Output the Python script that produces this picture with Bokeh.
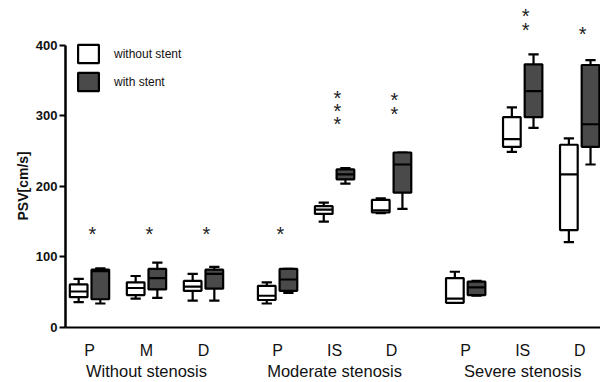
from bokeh.plotting import figure
from bokeh.models import (ColumnDataSource, LinearAxis, FixedTicker, Range1d,
                          Legend, LegendItem, Title)
from bokeh.core.properties import value
from bokeh.embed import file_html
from bokeh.resources import INLINE

# ---------------- data ----------------
groups = ["Without stenosis", "Moderate stenosis", "Severe stenosis"]
sites = ["P", "M", "D", "P", "IS", "D", "P", "IS", "D"]
site_group = [0, 0, 0, 1, 1, 1, 2, 2, 2]
site_slot = [0, 1, 2, 0, 1, 2, 0, 1, 2]

# without stent: whisker low, Q1, median, Q3, whisker high
wo_low = [36, 41, 38, 34, 150, 162, 35, 249, 121]
wo_q1 = [43, 46, 52, 39, 161, 163, 35, 256, 138]
wo_med = [51, 56, 58, 45, 167, 166, 41, 267, 217]
wo_q3 = [61, 64, 66, 59, 172, 181, 70, 298, 259]
wo_high = [69, 73, 76, 64, 177, 183, 79, 312, 268]

# with stent
ws_low = [34, 42, 38, 49, 204, 168, 45, 283, 231]
ws_q1 = [40, 54, 55, 52, 210, 191, 46, 298, 256]
ws_med = [80, 70, 76, 68, 217, 231, 57, 335, 288]
ws_q3 = [82, 83, 82, 83, 224, 248, 65, 373, 372]
ws_high = [84, 92, 86, 83, 226, 248, 66, 387, 379]

# significance stars: site index and height
star_site = [0, 1, 2, 3, 4, 4, 4, 5, 5, 7, 7, 8]
star_y = [137, 137, 137, 137, 330, 311, 292, 327, 307, 445, 426, 420]

y_ticks = [0, 100, 200, 300, 400]
y_label = "PSV[cm/s]"

# ---------------- layout helpers ----------------
GROUP_STEP = 3.3
OFFSET = 0.19
BOX_W = 0.31
CAP_HALF = 0.09

pos = [g * GROUP_STEP + s for g, s in zip(site_group, site_slot)]
group_pos = [g * GROUP_STEP + 1 for g in range(len(groups))]


def make_src(xshift, low, q1, med, q3, high):
    x = [p_ + xshift for p_ in pos]
    return ColumnDataSource(dict(
        x=x, low=low, q1=q1, med=med, q3=q3, high=high,
        cx0=[v - CAP_HALF for v in x], cx1=[v + CAP_HALF for v in x],
        mx0=[v - BOX_W / 2 for v in x], mx1=[v + BOX_W / 2 for v in x],
    ))


src_wo = make_src(-OFFSET, wo_low, wo_q1, wo_med, wo_q3, wo_high)
src_ws = make_src(OFFSET, ws_low, ws_q1, ws_med, ws_q3, ws_high)

p = figure(width=600, height=382, output_backend="svg", toolbar_location=None,
           x_range=Range1d(-0.421, 8.965), y_range=Range1d(0, 463.4),
           min_border_left=65, min_border_right=0, min_border_top=0,
           min_border_bottom=53, outline_line_color=None,
           background_fill_color="white", border_fill_color="white")
p.xgrid.visible = False
p.ygrid.visible = False

LW = 2.2
renderers = {}
for key, src, fill in (("wo", src_wo, "white"), ("ws", src_ws, "#4a4a4a")):
    p.segment(x0="x", y0="low", x1="x", y1="high", source=src,
              line_color="black", line_width=LW)
    p.segment(x0="cx0", y0="high", x1="cx1", y1="high", source=src,
              line_color="black", line_width=LW)
    p.segment(x0="cx0", y0="low", x1="cx1", y1="low", source=src,
              line_color="black", line_width=LW)
    r = p.vbar(x="x", width=BOX_W, bottom="q1", top="q3", source=src,
               fill_color=fill, line_color="black", line_width=LW)
    p.segment(x0="mx0", y0="med", x1="mx1", y1="med", source=src,
              line_color="black", line_width=LW)
    renderers[key] = r

star_src = ColumnDataSource(dict(
    x=[pos[i] + 0.05 for i in star_site], y=star_y, t=["*"] * len(star_y)))
p.text(x="x", y="y", text="t", source=star_src,
       text_font=value("Liberation Sans"), text_font_size="20px",
       text_align="center", text_baseline="middle", text_color="#222222",
       y_offset=3)

# ---------------- axes ----------------
yax = p.yaxis[0]
yax.ticker = FixedTicker(ticks=y_ticks)
yax.bounds = (0, 400)
yax.axis_line_width = 2.5
yax.major_tick_line_width = 2
yax.major_tick_out = 6
yax.major_tick_in = 0
yax.minor_tick_line_color = None
yax.major_label_standoff = 2
yax.major_label_text_font = "Liberation Sans"
yax.major_label_text_font_style = "bold"
yax.major_label_text_font_size = "13px"
yax.major_label_text_color = "#111111"

p.add_layout(Title(text=y_label, align="left", offset=107, standoff=4,
                   text_font="Liberation Sans", text_font_style="bold",
                   text_font_size="14px", text_color="#111111"), "left")

xax = p.xaxis[0]
xax.ticker = FixedTicker(ticks=pos)
xax.major_label_overrides = {pos[i]: sites[i] for i in range(len(sites))}
xax.axis_line_width = 2
xax.major_tick_out = 0
xax.major_tick_in = 0
xax.minor_tick_line_color = None
xax.major_tick_line_color = None
xax.major_label_standoff = 14
xax.major_label_text_font = "Liberation Sans"
xax.major_label_text_font_size = "16px"
xax.major_label_text_color = "#111111"

gax = LinearAxis(ticker=FixedTicker(ticks=group_pos),
                 major_label_overrides={group_pos[i]: groups[i] for i in range(len(groups))},
                 axis_line_color=None, major_tick_line_color=None,
                 minor_tick_line_color=None, major_tick_out=0, major_tick_in=0,
                 major_label_standoff=0,
                 major_label_text_font="Liberation Sans",
                 major_label_text_font_size="16.5px",
                 major_label_text_color="#111111")
p.add_layout(gax, "below")

legend = Legend(items=[LegendItem(label="without stent", renderers=[renderers["wo"]]),
                       LegendItem(label="with stent", renderers=[renderers["ws"]])],
                location=(10, 234), glyph_width=26, glyph_height=23,
                padding=0, spacing=5, label_standoff=13, margin=0,
                label_text_font="Liberation Sans", label_text_font_size="12px",
                label_text_color="#111111",
                background_fill_alpha=0, border_line_alpha=0)
p.add_layout(legend)

open("out.html", "w").write(file_html(p, INLINE))
